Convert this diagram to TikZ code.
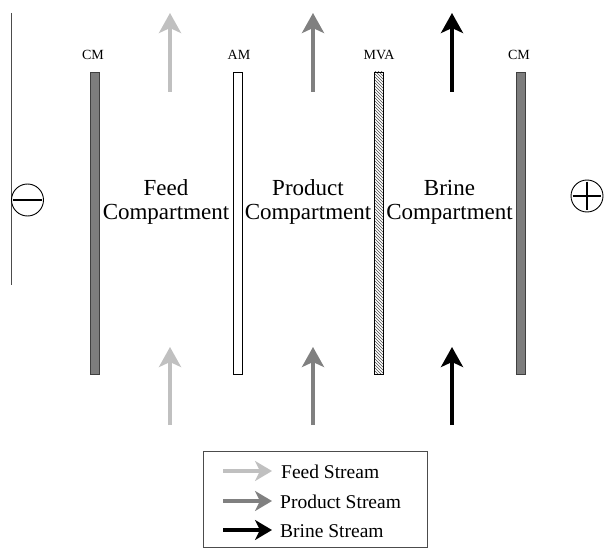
\documentclass[tikz,border=0pt]{standalone}
\usepackage{fontspec}
\setmainfont{Liberation Serif}
\usetikzlibrary{arrows.meta,patterns}
\definecolor{feedc}{RGB}{192,192,192}
\definecolor{prodc}{RGB}{128,128,128}
\definecolor{brinec}{RGB}{0,0,0}
\definecolor{cmfill}{RGB}{125,125,125}
\begin{document}
\begin{tikzpicture}[x=1pt,y=-1pt,
  membrane/.style={draw=black, line width=0.9pt, minimum width=9pt, minimum height=302pt, inner sep=0pt, outer sep=0pt},
  cmbar/.style={membrane, fill=cmfill, draw=black!75},
  ambar/.style={membrane, fill=white},
  mvabar/.style={membrane, pattern=north west lines, pattern color=black!70},
  mlabel/.style={font=\fontsize{14}{15}\selectfont, anchor=base, inner sep=0pt},
  comptext/.style={font=\fontsize{23}{25}\selectfont, anchor=base, inner sep=0pt},
  legtext/.style={font=\fontsize{19.5}{22}\selectfont, anchor=base west, inner sep=0pt},
  flow/.style={line width=4pt, -{Stealth[length=20pt,width=22pt,inset=5pt]}},
  legflow/.style={line width=4.5pt, -{Stealth[length=17pt,width=20pt,inset=5pt]}},
  electrode/.style={draw, circle, line width=0.9pt, minimum size=32pt, inner sep=0pt}
]
\useasboundingbox (0,0) rectangle (606,551);

% electrode line
\coordinate (lt) at (11,13);
\coordinate (lb) at (11,285);
\draw[black!70, line width=0.9pt] (lt) -- (lb);

% electrodes
\node[electrode] (minus) at (27.5,200) {};
\draw[line width=2pt, shorten <=2pt, shorten >=2pt] (minus.west) -- (minus.east);
\node[electrode] (plus) at (587,196) {};
\draw[line width=2pt, shorten <=2pt, shorten >=2pt] (plus.west) -- (plus.east);
\draw[line width=2pt, shorten <=2pt, shorten >=2pt] (plus.north) -- (plus.south);

% membranes
\node[cmbar] (cm1) at (94.5,223) {};
\node[ambar] (am) at (237.5,223) {};
\node[mvabar] (mva) at (378.5,223) {};
\node[cmbar] (cm2) at (520.5,223) {};

% membrane labels
\node[mlabel] (lcm1) at (93,60) {CM};
\node[mlabel] (lam) at (239,60) {AM};
\node[mlabel] (lmva) at (379,60) {MVA};
\node[mlabel] (lcm2) at (519,60) {CM};

% compartment labels
\node[comptext] (f1) at (166,195) {Feed};
\node[comptext] (f2) at (166,219.5) {Compartment};
\node[comptext] (p1) at (308,195) {Product};
\node[comptext] (p2) at (308,219.5) {Compartment};
\node[comptext] (b1) at (449.5,195) {Brine};
\node[comptext] (b2) at (449.5,219.5) {Compartment};

% flow arrows
\coordinate (ft0) at (170,92);  \coordinate (ft1) at (170,13);
\coordinate (pt0) at (313,92);  \coordinate (pt1) at (313,13);
\coordinate (bt0) at (452,92);  \coordinate (bt1) at (452,13);
\coordinate (fb0) at (170,425); \coordinate (fb1) at (170,347);
\coordinate (pb0) at (313,425); \coordinate (pb1) at (313,347);
\coordinate (bb0) at (452,425); \coordinate (bb1) at (452,347);
\draw[flow, feedc] (ft0) -- (ft1);
\draw[flow, prodc] (pt0) -- (pt1);
\draw[flow, brinec] (bt0) -- (bt1);
\draw[flow, feedc] (fb0) -- (fb1);
\draw[flow, prodc] (pb0) -- (pb1);
\draw[flow, brinec] (bb0) -- (bb1);

% legend
\node[draw=black!70, line width=0.9pt, minimum width=224pt, minimum height=96pt, inner sep=0pt] (legend) at (315,499) {};
\coordinate (lf0) at (223,471); \coordinate (lf1) at (272,471);
\coordinate (lp0) at (223,501); \coordinate (lp1) at (272,501);
\coordinate (lb0) at (223,530); \coordinate (lb1) at (272,530);
\draw[legflow, feedc] (lf0) -- (lf1);
\draw[legflow, prodc] (lp0) -- (lp1);
\draw[legflow, brinec] (lb0) -- (lb1);
\node[legtext] (tf) at (281,478) {Feed Stream};
\node[legtext] (tp) at (280,508) {Product Stream};
\node[legtext] (tb) at (280,537) {Brine Stream};
\end{tikzpicture}
\end{document}
